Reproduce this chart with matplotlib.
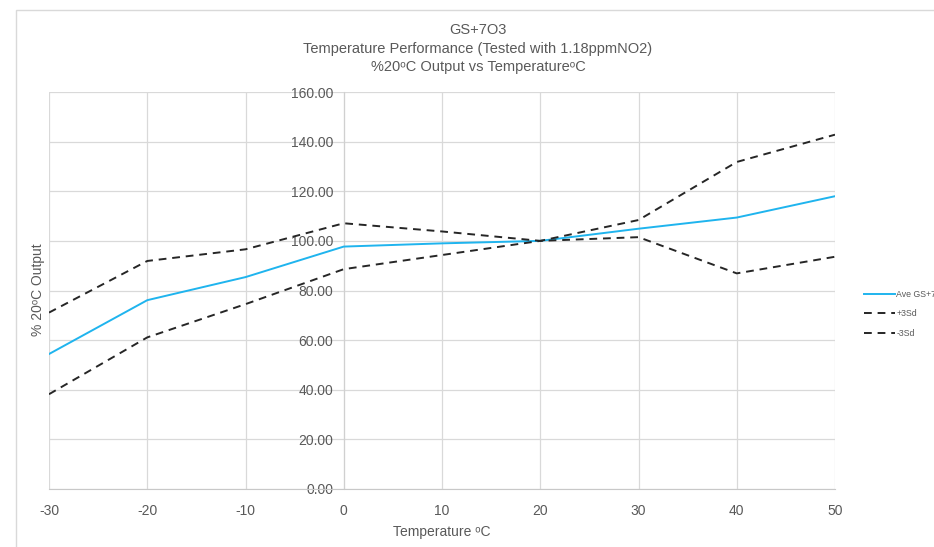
import matplotlib
matplotlib.use("Agg")
import matplotlib.pyplot as plt
from matplotlib.patches import Rectangle
from matplotlib.font_manager import FontProperties

temps = [-30, -20, -10, 0, 10, 20, 30, 40, 50]
ave = [54.4, 76.1, 85.4, 97.7, 99.0, 100.0, 104.9, 109.4, 118.0]
plus3sd = [71.1, 91.9, 96.6, 107.1, 103.8, 100.0, 101.5, 86.9, 93.6]
minus3sd = [38.2, 61.1, 74.5, 88.6, 94.3, 100.0, 108.4, 131.8, 142.8]
yticks = [0, 20, 40, 60, 80, 100, 120, 140, 160]
xticks = [-30, -20, -10, 0, 10, 20, 30, 40, 50]

plt.rcParams['font.family'] = ['Liberation Sans', 'DejaVu Sans']
plt.rcParams['axes.unicode_minus'] = False
gray_txt = '#595959'
grid_c = '#d9d9d9'

W, H = 934, 547
fig = plt.figure(figsize=(W / 100, H / 100), dpi=100)
fig.patch.set_facecolor('white')

# outer chart border (top & left visible)
fig.add_artist(Rectangle((16 / W, -0.1), 1.2, 1 - 10 / H + 0.1, transform=fig.transFigure,
                         fill=False, edgecolor='#d9d9d9', linewidth=1.0))

ax = fig.add_axes([49 / W, 1 - 489 / H, (835 - 49) / W, (489 - 92) / H])
ax.set_xlim(-30, 50)
ax.set_ylim(0, 160)

ax.plot(temps, ave, color='#1FB4EE', linewidth=1.4, label='Ave GS+7O3', zorder=3)
ax.plot(temps, plus3sd, color='#262626', linewidth=1.4, dashes=(4, 3), label='+3Sd', zorder=3)
ax.plot(temps, minus3sd, color='#262626', linewidth=1.4, dashes=(4, 3), label='-3Sd', zorder=3)

ax.set_xticks(xticks)
ax.set_yticks(yticks)
ax.set_yticklabels([f'{v:.2f}' for v in yticks])
ax.set_xticklabels([str(v) for v in xticks])
ax.grid(True, color=grid_c, linewidth=0.9, zorder=0)
ax.set_axisbelow(True)

for s in ['top', 'right']:
    ax.spines[s].set_visible(False)
ax.spines['bottom'].set_color('#c8c8c8')
ax.spines['left'].set_position(('data', 0))
ax.spines['left'].set_color('#d0d0d0')
ax.tick_params(axis='both', length=0, labelsize=10, labelcolor=gray_txt)
ax.tick_params(axis='y', pad=7.5)
ax.tick_params(axis='x', pad=11)
for lbl in ax.get_yticklabels():
    lbl.set_zorder(5)

ax.set_xlabel('Temperature ᵒC', fontsize=10, color=gray_txt, labelpad=5)
fig.text(38 / W, 1 - 290 / H, '% 20ᵒC Output', rotation=90, ha='center', va='center',
         fontsize=10, color=gray_txt)

titles = ['GS+7O3', 'Temperature Performance (Tested with 1.18ppmNO2)',
          '%20ᵒC Output vs TemperatureᵒC']
for i, t in enumerate(titles):
    fig.text(478 / W, 1 - (30 + 18.5 * i) / H, t, ha='center', va='center', fontsize=10.5, color=gray_txt)

leg = fig.legend(loc='center left', bbox_to_anchor=(860 / W, 1 - 314 / H), frameon=False,
                 prop=FontProperties(family=['Liberation Sans Narrow', 'Liberation Sans'], size=6.3),
                 labelcolor=gray_txt, handlelength=3.6, handletextpad=0.15,
                 labelspacing=1.2, borderaxespad=0)

fig.savefig('out.png', dpi=100, facecolor='white')
